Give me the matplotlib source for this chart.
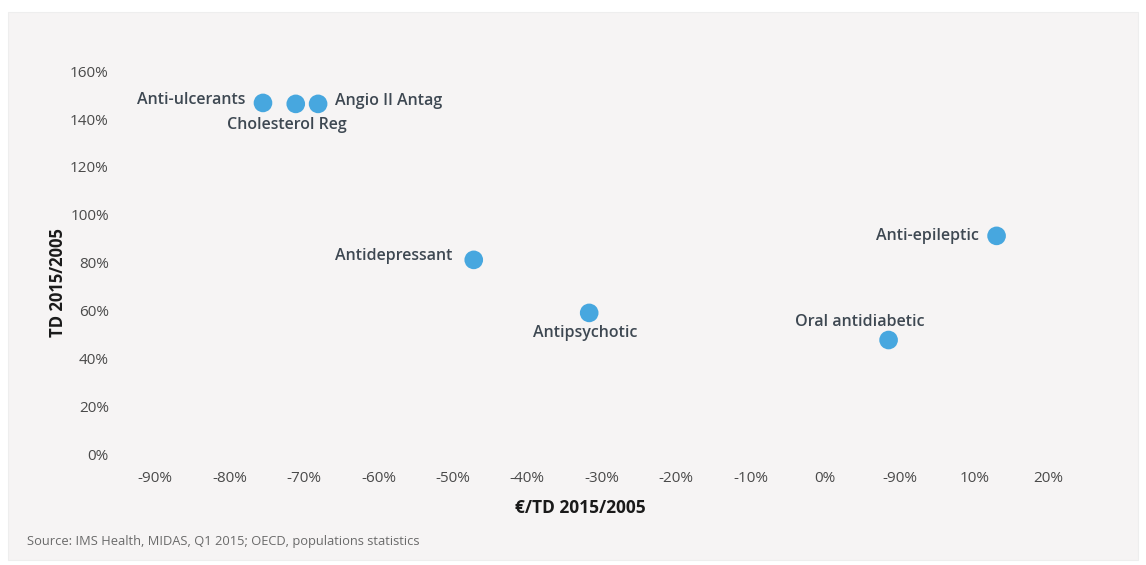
import matplotlib.pyplot as plt
from matplotlib.patches import Rectangle

# data (x read in tick-position units, y in %)
classes = ["Anti-ulcerants", "Cholesterol Reg", "Angio II Antag", "Antidepressant",
           "Antipsychotic", "Oral antidiabetic", "Anti-epileptic"]
cost_change = [-75.5, -71.1, -68.1, -47.2, -31.7, 8.5, 23.0]
td_change = [146.7, 146.3, 146.3, 81.3, 59.2, 47.9, 91.3]

x_ticks = [-90, -80, -70, -60, -50, -40, -30, -20, -10, 0, 10, 20, 30]
x_labels = ["-90%", "-80%", "-70%", "-60%", "-50%", "-40%", "-30%", "-20%",
            "-10%", "0%", "-90%", "10%", "20%"]
y_ticks = [0, 20, 40, 60, 80, 100, 120, 140, 160]

# label offsets in pixels, alignment
offsets = {
    "Anti-ulcerants": ((-18, 3), "right"),
    "Cholesterol Reg": ((-9, -21), "center"),
    "Angio II Antag": ((17, 3), "left"),
    "Antidepressant": ((-21, 4), "right"),
    "Antipsychotic": ((-4, -20), "center"),
    "Oral antidiabetic": ((-29, 18), "center"),
    "Anti-epileptic": ((-18, 0), "right"),
}

plt.rcParams['font.family'] = ['Open Sans', 'DejaVu Sans']
bg = "#f6f4f4"
txt = "#3e4852"

fig = plt.figure(figsize=(11.46, 5.65), dpi=100)
fig.patch.set_facecolor("white")
fig.patches.append(Rectangle((8 / 1146, 5 / 565), 1130 / 1146, 548 / 565,
                             transform=fig.transFigure, facecolor=bg,
                             edgecolor="#eeeeee", lw=0.8, zorder=-1))

ax = fig.add_axes([0.1047, 0.1735, 0.8377, 0.7433])
ax.set_zorder(2)
ax.patch.set_alpha(0)
for s in ax.spines.values():
    s.set_visible(False)

ax.scatter(cost_change, td_change, s=180, color="#47a7df", edgecolors="none", zorder=3)

for name, x, y in zip(classes, cost_change, td_change):
    (dx, dy), ha = offsets[name]
    ax.annotate(name, (x, y), xytext=(dx, dy), textcoords="offset pixels",
                ha=ha, va="center", fontsize=11.5, fontweight="semibold", color=txt)

ax.set_xlim(-94.7, 34.2)
ax.set_ylim(-5, 170)
ax.set_xticks(x_ticks)
ax.set_xticklabels(x_labels)
ax.set_yticks(y_ticks)
ax.set_yticklabels([f"{v}%" for v in y_ticks])
ax.tick_params(length=0, labelsize=11, labelcolor="#4a4a4a")
ax.tick_params(axis="x", pad=3)
ax.tick_params(axis="y", pad=8)

ax.set_xlabel("€/TD 2015/2005", fontsize=12.5, fontweight="bold", color="#1a1a1a",
              labelpad=9, x=0.479)
ax.set_ylabel("TD 2015/2005", fontsize=12, fontweight="bold", color="#1a1a1a",
              labelpad=2, y=0.44)

fig.text(27 / 1146, 1 - 542 / 565, "Source: IMS Health, MIDAS, Q1 2015; OECD, populations statistics",
         fontsize=9.3, color="#6a6a6a", va="center", ha="left")

plt.savefig("out.png", dpi=100, facecolor=fig.get_facecolor())
